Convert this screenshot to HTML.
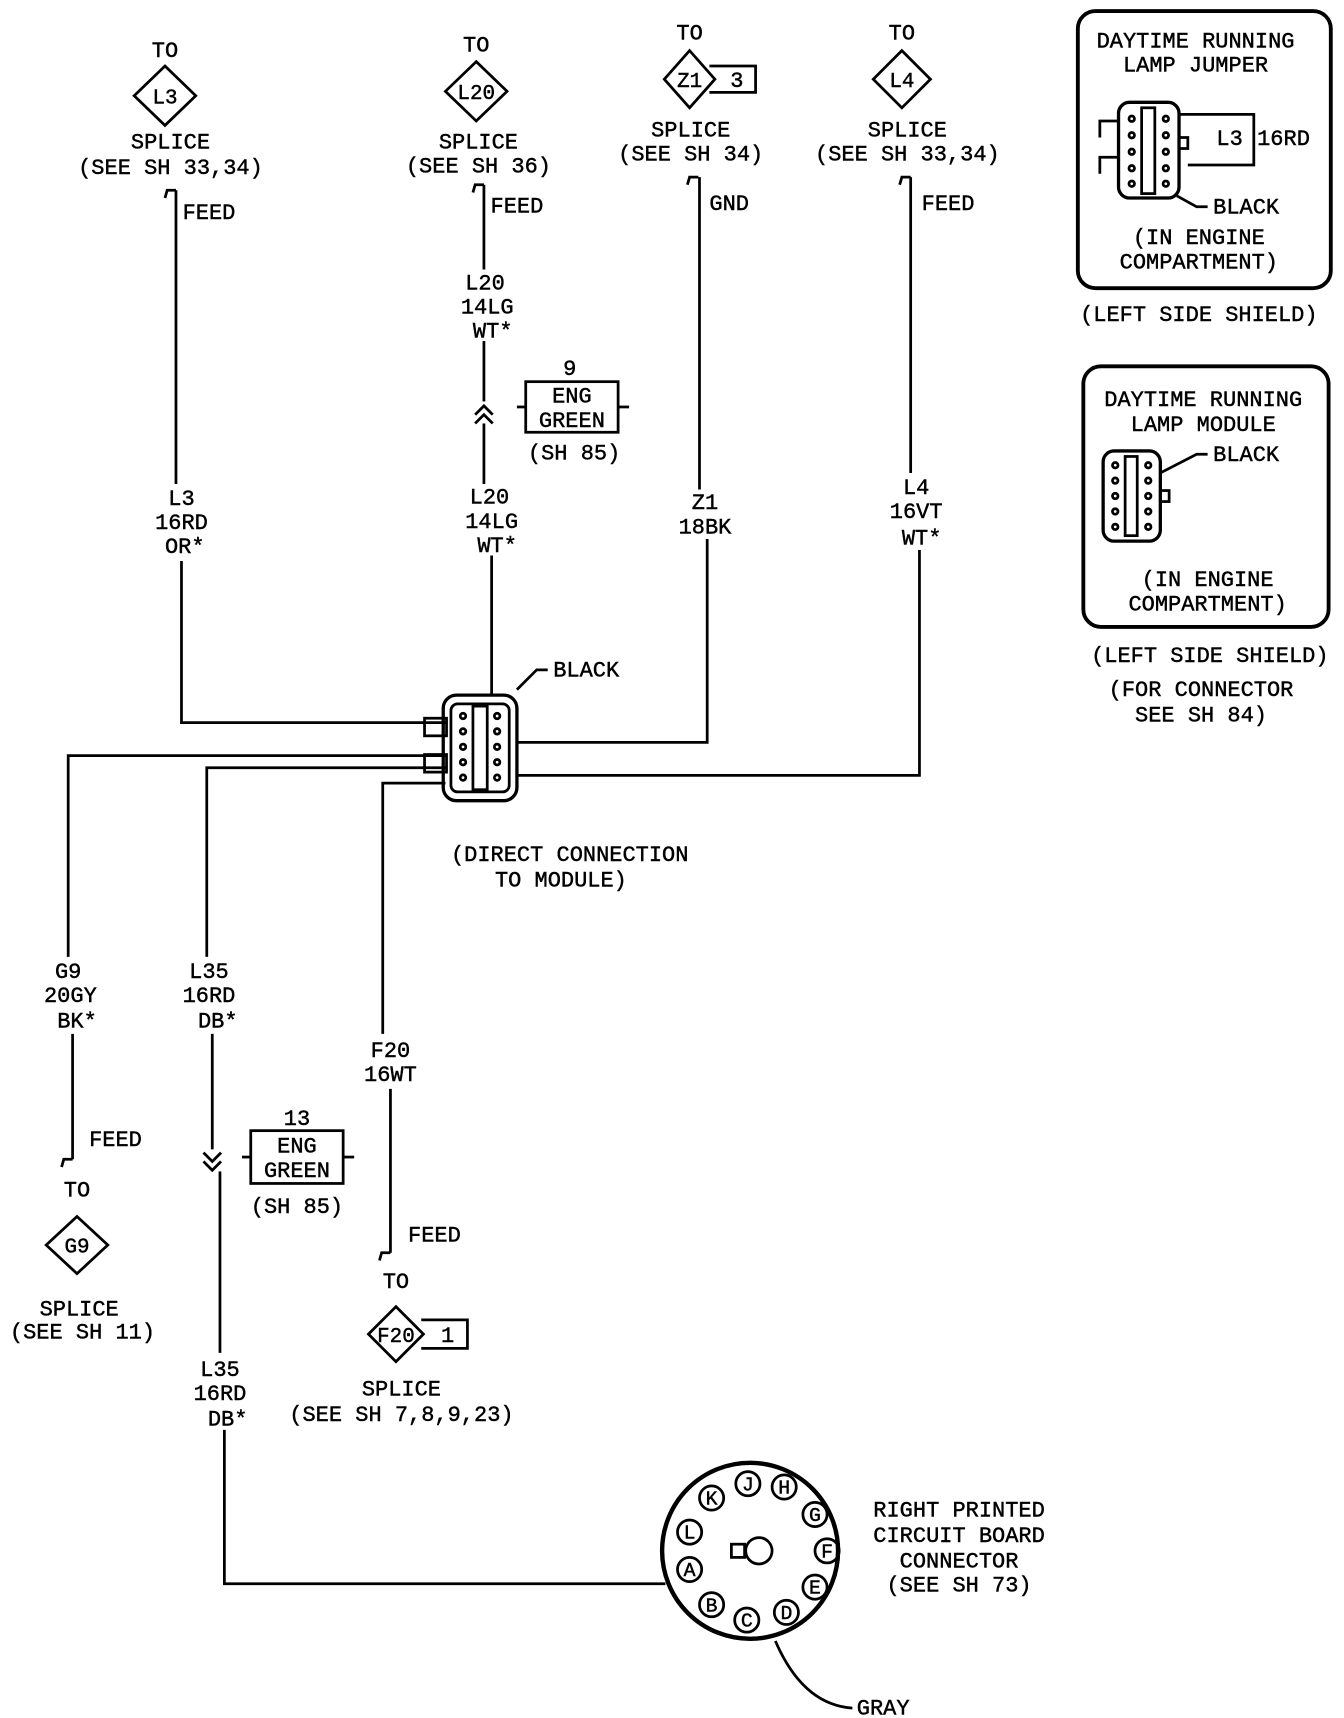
<!DOCTYPE html>
<html><head><meta charset="utf-8"><style>
html,body{margin:0;padding:0;background:#fff;}
svg{display:block}
text{font-family:"Liberation Mono",monospace;font-size:20px;fill:#000;text-anchor:middle;stroke:#000;stroke-width:0.4px;}
text.d{font-size:19px;}
text.p{font-size:18px;}
</style></head><body>
<svg width="1344" height="1718" viewBox="0 0 1222 1562" xmlns="http://www.w3.org/2000/svg">
<g fill="none" stroke="#000" stroke-width="2.5">
<polygon points="150,60 178,87 150,114 122,87"/>
<polygon points="433,56 461,83 433,110 405,83"/>
<polygon points="627,46 650,72 627,98 604,72"/>
<polyline points="645,60 687,60 687,84 645,84"/>
<polygon points="820,46 846,72 820,98 794,72"/>
<polygon points="70,1106 98,1132 70,1158 42,1132"/>
<polygon points="360,1188 385,1213 360,1238 335,1213"/>
<polyline points="383,1200 425,1200 425,1226 383,1226"/>
<path d="M150,180 L152,173 L160,173"/>
<path d="M430,175 L432,168 L440,168"/>
<path d="M625,168 L627,161 L635,161"/>
<path d="M818,168 L820,161 L828,161"/>
<path d="M56,1061 L58,1054 L66,1054"/>
<path d="M345,1146 L347,1139 L355,1139"/>
<polyline points="160,173 160,440"/>
<polyline points="165,510 165,657 405,657"/>
<polyline points="440,168 440,245"/>
<polyline points="440,310 440,365"/>
<path d="M432,377 L440,369 L448,377 M432,385 L440,377 L448,385"/>
<polyline points="440,385 440,440"/>
<polyline points="447,505 447,632"/>
<polyline points="636,161 636,445"/>
<polyline points="643,490 643,675 470,675"/>
<polyline points="828,161 828,430"/>
<polyline points="836,500 836,705 470,705"/>
<polyline points="62,870 62,687 405,687"/>
<polyline points="188,870 188,698 405,698"/>
<polyline points="348,940 348,712 405,712"/>
<polyline points="66,940 66,1054"/>
<polyline points="193,940 193,1045"/>
<path d="M185,1048 L193,1056 L201,1048 M185,1056 L193,1064 L201,1056"/>
<polyline points="200,1065 200,1230"/>
<polyline points="204,1300 204,1440 605,1440"/>
<polyline points="355,990 355,1139"/>
<rect x="478" y="347" width="84" height="46"/>
<line x1="470" y1="370" x2="478" y2="370"/><line x1="562" y1="370" x2="572" y2="370"/>
<rect x="228" y="1028" width="84" height="48"/>
<line x1="220" y1="1052" x2="228" y2="1052"/><line x1="312" y1="1052" x2="322" y2="1052"/>
<rect x="403" y="632" width="67" height="96" rx="12" stroke-width="3"/>
<rect x="410" y="640" width="53" height="80" rx="6"/>
<rect x="430" y="642" width="13" height="76"/>
<rect x="386" y="653" width="20" height="16"/><rect x="386" y="686" width="20" height="16"/>
<circle cx="421" cy="651" r="2.5"/><circle cx="421" cy="665" r="2.5"/><circle cx="421" cy="679" r="2.5"/><circle cx="421" cy="693" r="2.5"/><circle cx="421" cy="707" r="2.5"/>
<circle cx="452" cy="651" r="2.5"/><circle cx="452" cy="665" r="2.5"/><circle cx="452" cy="679" r="2.5"/><circle cx="452" cy="693" r="2.5"/><circle cx="452" cy="707" r="2.5"/>
<path d="M498,609 L488,609 L470,627"/>
<circle cx="682" cy="1410" r="80" stroke-width="4"/>
<circle cx="690" cy="1410" r="12"/><rect x="665" y="1404" width="12" height="12"/>
<circle cx="680" cy="1349" r="11"/><circle cx="713" cy="1352" r="11"/><circle cx="741" cy="1377" r="11"/><circle cx="752" cy="1410" r="11"/><circle cx="741" cy="1443" r="11"/><circle cx="715" cy="1466" r="11"/><circle cx="679" cy="1473" r="11"/><circle cx="647" cy="1459" r="11"/><circle cx="627" cy="1427" r="11"/><circle cx="627" cy="1393" r="11"/><circle cx="647" cy="1362" r="11"/>
<path d="M705,1492 Q730,1550 775,1553"/>
<rect x="980" y="10" width="230" height="252" rx="16" stroke-width="3.5"/>
<rect x="1017" y="93" width="55" height="87" rx="10" stroke-width="3"/>
<rect x="1038" y="98" width="12" height="78"/>
<path d="M1017,110 L1000,110 L1000,125 M1017,143 L1000,143 L1000,158"/>
<rect x="1072" y="125" width="8" height="10"/>
<polyline points="1072,104 1140,104 1140,150 1080,150"/>
<circle cx="1029" cy="108" r="2.5"/><circle cx="1029" cy="123" r="2.5"/><circle cx="1029" cy="138" r="2.5"/><circle cx="1029" cy="153" r="2.5"/><circle cx="1029" cy="167" r="2.5"/>
<circle cx="1060" cy="108" r="2.5"/><circle cx="1060" cy="123" r="2.5"/><circle cx="1060" cy="138" r="2.5"/><circle cx="1060" cy="153" r="2.5"/><circle cx="1060" cy="167" r="2.5"/>
<path d="M1098,188 L1088,188 L1070,178"/>
<rect x="985" y="333" width="223" height="237" rx="16" stroke-width="3.5"/>
<rect x="1003" y="410" width="52" height="82" rx="10" stroke-width="3"/>
<rect x="1023" y="415" width="11" height="72"/>
<rect x="1055" y="446" width="8" height="10"/>
<circle cx="1014" cy="423" r="2.5"/><circle cx="1014" cy="437" r="2.5"/><circle cx="1014" cy="451" r="2.5"/><circle cx="1014" cy="465" r="2.5"/><circle cx="1014" cy="479" r="2.5"/>
<circle cx="1044" cy="423" r="2.5"/><circle cx="1044" cy="437" r="2.5"/><circle cx="1044" cy="451" r="2.5"/><circle cx="1044" cy="465" r="2.5"/><circle cx="1044" cy="479" r="2.5"/>
<path d="M1098,413 L1088,413 L1055,430"/>
</g>
<g>
<text x="150" y="52">TO</text><text class="d" x="150" y="94">L3</text>
<text x="155" y="135">SPLICE</text><text x="155" y="158">(SEE SH 33,34)</text><text x="190" y="199">FEED</text>
<text x="165" y="459">L3</text><text x="165" y="481">16RD</text><text x="168" y="503">OR*</text>
<text x="433" y="47">TO</text><text class="d" x="433" y="90">L20</text>
<text x="435" y="135">SPLICE</text><text x="435" y="157">(SEE SH 36)</text><text x="470" y="193">FEED</text>
<text x="441" y="263">L20</text><text x="443" y="285">14LG</text><text x="448" y="307">WT*</text>
<text x="518" y="341">9</text><text x="520" y="366">ENG</text><text x="520" y="388">GREEN</text><text x="522" y="418">(SH 85)</text>
<text x="445" y="458">L20</text><text x="447" y="480">14LG</text><text x="452" y="502">WT*</text>
<text x="627" y="36">TO</text><text class="d" x="627" y="79">Z1</text><text x="670" y="79">3</text>
<text x="628" y="124">SPLICE</text><text x="628" y="146">(SEE SH 34)</text><text x="663" y="191">GND</text>
<text x="641" y="463">Z1</text><text x="641" y="485">18BK</text>
<text x="820" y="36">TO</text><text class="d" x="820" y="79">L4</text>
<text x="825" y="124">SPLICE</text><text x="825" y="146">(SEE SH 33,34)</text><text x="862" y="191">FEED</text>
<text x="833" y="449">L4</text><text x="833" y="471">16VT</text><text x="838" y="495">WT*</text>
<text x="533" y="615">BLACK</text>
<text x="518" y="783">(DIRECT CONNECTION</text><text x="510" y="806">TO MODULE)</text>
<text x="62" y="889">G9</text><text x="64" y="911">20GY</text><text x="70" y="934">BK*</text>
<text x="190" y="889">L35</text><text x="190" y="911">16RD</text><text x="198" y="934">DB*</text>
<text x="355" y="961">F20</text><text x="355" y="983">16WT</text>
<text x="105" y="1042">FEED</text><text x="70" y="1088">TO</text><text class="d" x="70" y="1139">G9</text>
<text x="72" y="1196">SPLICE</text><text x="75" y="1217">(SEE SH 11)</text>
<text x="270" y="1023">13</text><text x="270" y="1048">ENG</text><text x="270" y="1070">GREEN</text><text x="270" y="1103">(SH 85)</text>
<text x="395" y="1129">FEED</text><text x="360" y="1171">TO</text><text class="d" x="360" y="1220">F20</text><text x="407" y="1220">1</text>
<text x="365" y="1269">SPLICE</text><text x="365" y="1292">(SEE SH 7,8,9,23)</text>
<text x="200" y="1251">L35</text><text x="200" y="1273">16RD</text><text x="207" y="1296">DB*</text>
<text class="p" x="680" y="1355">J</text><text class="p" x="713" y="1358">H</text><text class="p" x="741" y="1383">G</text><text class="p" x="752" y="1416">F</text><text class="p" x="741" y="1449">E</text><text class="p" x="715" y="1472">D</text><text class="p" x="679" y="1479">C</text><text class="p" x="647" y="1465">B</text><text class="p" x="627" y="1433">A</text><text class="p" x="627" y="1399">L</text><text class="p" x="647" y="1368">K</text>
<text x="872" y="1379">RIGHT PRINTED</text><text x="872" y="1402">CIRCUIT BOARD</text><text x="872" y="1425">CONNECTOR</text><text x="872" y="1447">(SEE SH 73)</text>
<text x="803" y="1559">GRAY</text>
<text x="1087" y="43">DAYTIME RUNNING</text><text x="1087" y="65">LAMP JUMPER</text>
<text x="1118" y="132">L3</text><text x="1167" y="132">16RD</text>
<text x="1133" y="194">BLACK</text>
<text x="1090" y="222">(IN ENGINE</text><text x="1090" y="244">COMPARTMENT)</text>
<text x="1090" y="292">(LEFT SIDE SHIELD)</text>
<text x="1094" y="369">DAYTIME RUNNING</text><text x="1094" y="392">LAMP MODULE</text>
<text x="1133" y="419">BLACK</text>
<text x="1098" y="533">(IN ENGINE</text><text x="1098" y="555">COMPARTMENT)</text>
<text x="1100" y="602">(LEFT SIDE SHIELD)</text><text x="1092" y="633">(FOR CONNECTOR</text><text x="1092" y="656">SEE SH 84)</text>
</g>
</svg>
</body></html>
